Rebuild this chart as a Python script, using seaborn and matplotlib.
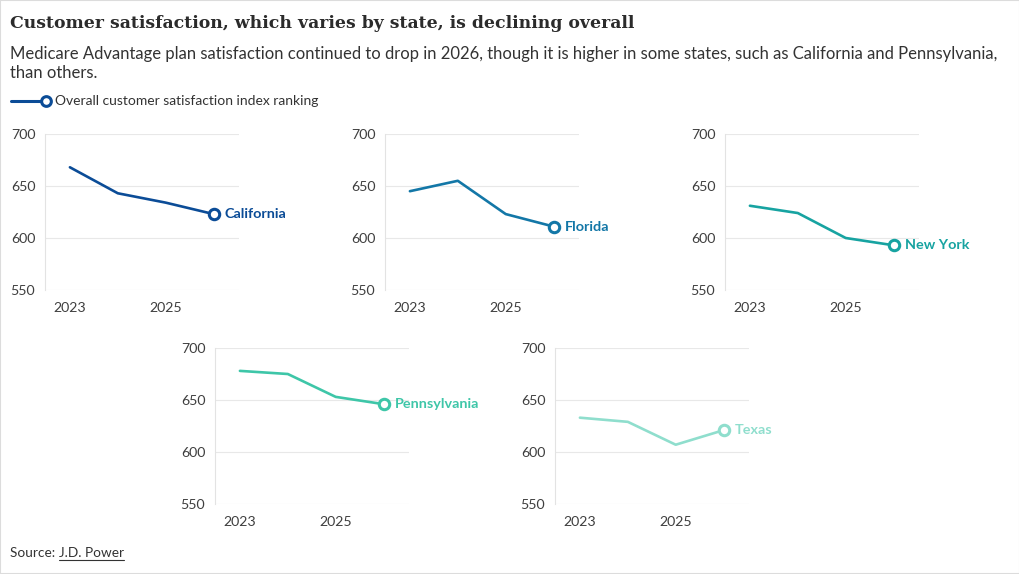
import pandas as pd
import matplotlib.pyplot as plt
import seaborn as sns
from matplotlib.lines import Line2D
from matplotlib.patches import Rectangle

years = [2023, 2024, 2025, 2026]
states = ['California', 'Florida', 'New York', 'Pennsylvania', 'Texas']
california = [668, 643, 634, 623]
florida = [645, 655, 623, 611]
new_york = [631, 624, 600, 593]
pennsylvania = [678, 675, 653, 646]
texas = [633, 629, 607, 621]
colores = ['#0b4c97', '#1377a7', '#17a3a1', '#3ec6a8', '#8fdecd']

valores = [california, florida, new_york, pennsylvania, texas]
df = pd.DataFrame({
    'Estado': [s for s in states for _ in years],
    'Ano': years * len(states),
    'Indice': [v for serie in valores for v in serie],
})

sns.set_style('white')
plt.rcParams['font.family'] = ['Lato', 'DejaVu Sans']

fig = plt.figure(figsize=(10.2, 5.74), dpi=100)
W, H = 1020, 574

# posicoes dos paineis em pixels: esquerda, topo
pos = [(45, 134), (385, 134), (725, 134), (215, 348), (555, 348)]
larg, alt = 194, 156

for i, estado in enumerate(states):
    x0, y0 = pos[i]
    ax = fig.add_axes([x0 / W, 1 - (y0 + alt) / H, larg / W, alt / H])
    dados = df[df['Estado'] == estado]
    cor = colores[i]
    sns.lineplot(data=dados, x='Ano', y='Indice', color=cor, linewidth=1.9, ax=ax)
    ultimo = dados.iloc[-1]
    ax.plot([ultimo['Ano']], [ultimo['Indice']], marker='o', markersize=7.5,
            markerfacecolor='white', markeredgecolor=cor, markeredgewidth=2.2,
            clip_on=False, zorder=5)
    ax.annotate(estado, (ultimo['Ano'], ultimo['Indice']), xytext=(8, 0),
                textcoords='offset points', va='center', ha='left',
                color=cor, fontsize=10.4, fontweight='bold', annotation_clip=False)
    ax.set_xlim(2022.48, 2026.53)
    ax.set_ylim(550, 700)
    ax.set_yticks([550, 600, 650, 700])
    ax.set_xticks([2023, 2025])
    ax.set_xticklabels(['2023', '2025'])
    ax.grid(axis='y', color='#e8e8e8', linewidth=0.8)
    ax.set_axisbelow(True)
    for lado in ['top', 'right', 'bottom']:
        ax.spines[lado].set_visible(False)
    ax.spines['left'].set_color('#e3e3e3')
    ax.spines['left'].set_linewidth(0.8)
    ax.tick_params(length=0, labelsize=10.2, labelcolor='#3f3f3f')
    ax.tick_params(axis='x', pad=9)
    ax.tick_params(axis='y', pad=7)
    ax.set_xlabel('')
    ax.set_ylabel('')

fig.text(10 / W, 1 - 15 / H, 'Customer satisfaction, which varies by state, is declining overall',
         family='DejaVu Serif', fontweight='bold', fontsize=12.4, color='#2b2b2b',
         va='top', ha='left')
fig.text(10 / W, 1 - 46 / H,
         'Medicare Advantage plan satisfaction continued to drop in 2026, though it is higher in some states, such as California and Pennsylvania,\nthan others.',
         fontsize=12, color='#333333', va='top', ha='left', linespacing=1.25)

# legenda
fig.add_artist(Line2D([11 / W, 44 / W], [1 - 101 / H] * 2, color=colores[0], linewidth=2.2))
fig.add_artist(Line2D([46 / W], [1 - 101 / H], marker='o', markersize=7,
                      markerfacecolor='white', markeredgecolor=colores[0], markeredgewidth=2.2))
fig.text(55 / W, 1 - 101 / H, 'Overall customer satisfaction index ranking',
         fontsize=10, color='#333333', va='center', ha='left')

# fonte
fig.text(10 / W, 1 - 553 / H, 'Source: ', fontsize=9.8, color='#333333', va='center', ha='left')
renderer = fig.canvas.get_renderer()
t1 = fig.texts[-1]
bb = t1.get_window_extent(renderer)
t2 = fig.text(bb.x1 / W, 1 - 553 / H, 'J.D. Power', fontsize=9.8, color='#333333',
              va='center', ha='left')
bb2 = t2.get_window_extent(renderer)
fig.add_artist(Line2D([bb2.x0 / W, bb2.x1 / W], [(bb2.y0 - 1) / H] * 2,
                      color='#333333', linewidth=0.8))

fig.patches.append(Rectangle((0, 0), 1, 1, transform=fig.transFigure, fill=False,
                             edgecolor='#dcdcdc', linewidth=1.5))

fig.savefig('out.png', dpi=100)
